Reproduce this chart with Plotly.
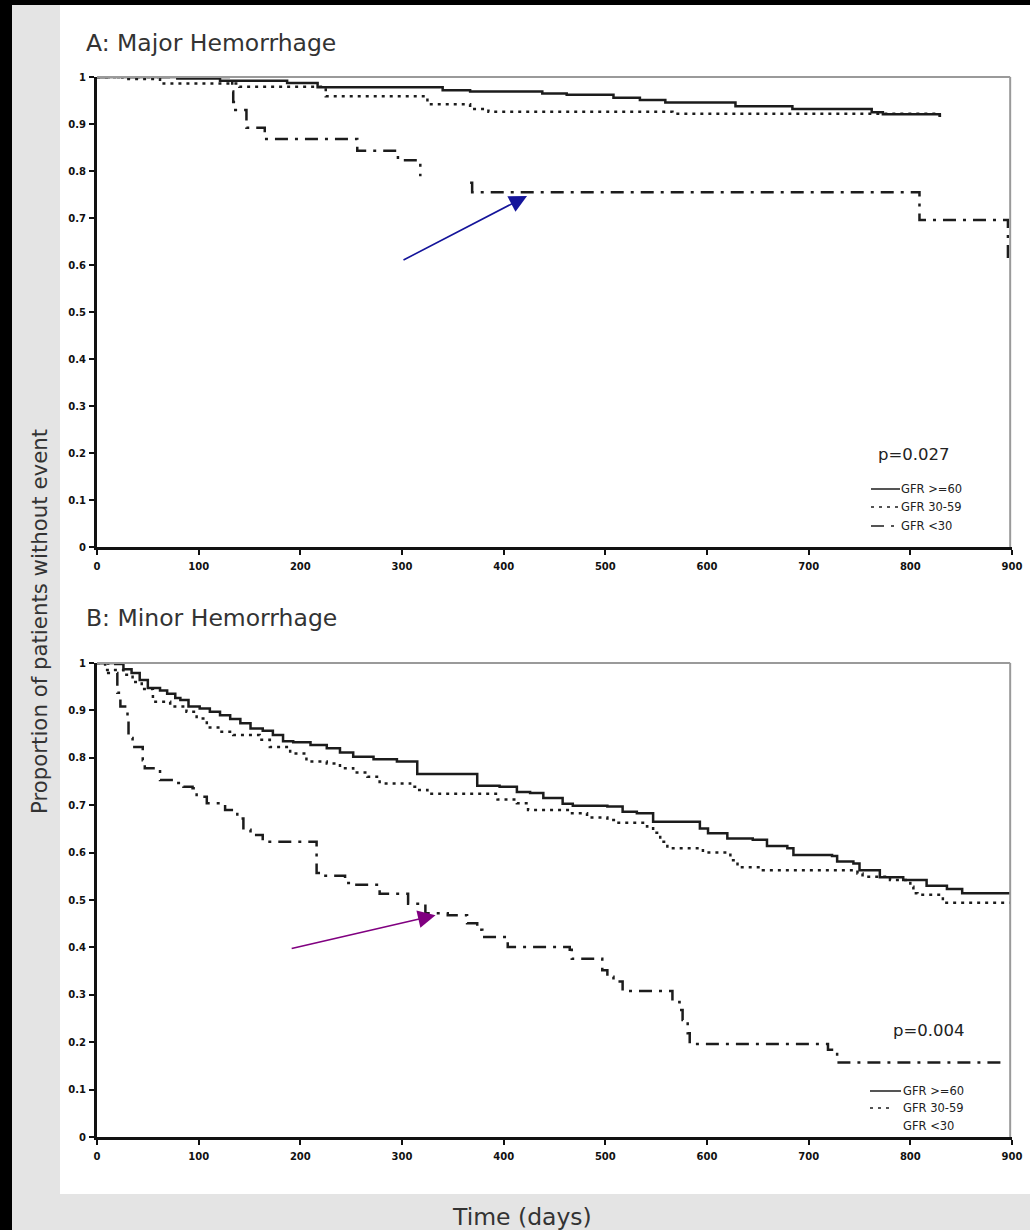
import plotly.graph_objects as go

# ---------------- data ----------------
# Panel A: Major Hemorrhage (Kaplan-Meier steps, time in days)
a_ge60_t = [0, 79, 121, 187, 217, 340, 367, 438, 462, 508, 534, 559, 628, 684, 762, 773, 829]
a_ge60_s = [1.0, 0.997, 0.992, 0.987, 0.978, 0.972, 0.969, 0.965, 0.962, 0.956, 0.951, 0.946, 0.938, 0.932, 0.925, 0.921, 0.915]

a_30_59_t = [0, 25, 62, 140, 225, 325, 367, 385, 566, 829]
a_30_59_s = [1.0, 0.996, 0.986, 0.979, 0.959, 0.942, 0.932, 0.926, 0.922, 0.915]

a_lt30_t = [0, 133, 134, 136, 147, 165, 256, 296, 318, None, 367, 369, 809, 896]
a_lt30_s = [1.0, 0.969, 0.947, 0.930, 0.892, 0.868, 0.843, 0.823, 0.789, None, 0.775, 0.755, 0.696, 0.606]

# Panel B: Minor Hemorrhage
b_ge60_t = [0, 18, 26, 34, 42, 50, 62, 69, 77, 82, 90, 101, 111, 121, 131, 141, 151, 163, 173, 183,
            193, 210, 226, 239, 252, 272, 295, 315, 374, 396, 413, 426, 439, 458, 468, 502, 517, 531,
            547, 593, 601, 620, 645, 659, 679, 685, 723, 728, 744, 750, 770, 793, 816, 836, 851, 898]
b_ge60_s = [1.0, 0.998, 0.987, 0.979, 0.964, 0.947, 0.942, 0.935, 0.926, 0.922, 0.908, 0.904, 0.897,
            0.890, 0.882, 0.873, 0.862, 0.857, 0.848, 0.835, 0.833, 0.827, 0.820, 0.811, 0.802, 0.797,
            0.792, 0.766, 0.741, 0.739, 0.728, 0.726, 0.715, 0.703, 0.699, 0.697, 0.686, 0.683, 0.665,
            0.651, 0.641, 0.630, 0.627, 0.614, 0.609, 0.595, 0.593, 0.581, 0.577, 0.563, 0.548, 0.542,
            0.530, 0.523, 0.514, 0.514]

b_30_59_t = [0, 8, 26, 35, 44, 55, 72, 88, 98, 108, 121, 134, 160, 170, 190, 206, 226, 239, 252, 266,
             278, 308, 315, 325, 394, 413, 424, 465, 482, 502, 511, 541, 547, 554, 561, 596, 623, 630,
             655, 748, 753, 780, 800, 803, 807, 832, 898]
b_30_59_s = [1.0, 0.985, 0.975, 0.960, 0.945, 0.918, 0.908, 0.897, 0.883, 0.864, 0.855, 0.848, 0.838,
             0.823, 0.809, 0.792, 0.788, 0.778, 0.769, 0.760, 0.746, 0.739, 0.732, 0.724, 0.712, 0.704,
             0.690, 0.683, 0.674, 0.669, 0.663, 0.655, 0.642, 0.623, 0.609, 0.600, 0.584, 0.569, 0.563,
             0.556, 0.549, 0.542, 0.528, 0.514, 0.511, 0.494, 0.494]

b_lt30_t = [0, 11, 20, 23, 30, 31, 35, 45, 47, 62, 77, 85, 94, 98, 108, 126, 138, 144, 151, 163, 216,
            222, 244, 249, 278, 306, 323, 345, 364, 374, 379, 404, 465, 467, 497, 502, 508, 517, 566,
            573, 576, 581, 583, 719, 728, 895]
b_lt30_s = [1.0, 0.979, 0.937, 0.908, 0.880, 0.842, 0.823, 0.795, 0.778, 0.753, 0.747, 0.739, 0.736,
            0.718, 0.704, 0.690, 0.672, 0.648, 0.637, 0.623, 0.557, 0.551, 0.536, 0.532, 0.513, 0.492,
            0.472, 0.468, 0.451, 0.437, 0.422, 0.401, 0.395, 0.376, 0.352, 0.338, 0.328, 0.308, 0.285,
            0.268, 0.247, 0.219, 0.196, 0.184, 0.157, 0.157]

group_names = ["GFR &gt;=60", "GFR 30-59", "GFR &lt;30"]
p_values = ["p=0.027", "p=0.004"]
panel_titles = ["A: Major Hemorrhage", "B: Minor Hemorrhage"]
y_ticks = [0, 0.1, 0.2, 0.3, 0.4, 0.5, 0.6, 0.7, 0.8, 0.9, 1]
y_tick_text = ["0", "0.1", "0.2", "0.3", "0.4", "0.5", "0.6", "0.7", "0.8", "0.9", "1"]
x_ticks = [0, 100, 200, 300, 400, 500, 600, 700, 800, 900]

# ---------------- figure ----------------
W, H = 1030, 1230
def px_x(p):
    return p / W
def px_y(p):
    return 1 - p / H

line_col = "#1c1c1c"
dashes = ["solid", "3px,5px", "13px,7px,3px,7px"]
styles = [dict(color=line_col, width=2.5, dash=d) for d in dashes]

fig = go.Figure()
panelA = [(a_ge60_t, a_ge60_s), (a_30_59_t, a_30_59_s), (a_lt30_t, a_lt30_s)]
panelB = [(b_ge60_t, b_ge60_s), (b_30_59_t, b_30_59_s), (b_lt30_t, b_lt30_s)]
for i, (t, s) in enumerate(panelA):
    fig.add_trace(go.Scatter(x=t, y=s, mode="lines", line=styles[i], line_shape="hv",
                             name=group_names[i], xaxis="x", yaxis="y", showlegend=False,
                             connectgaps=False))
for i, (t, s) in enumerate(panelB):
    fig.add_trace(go.Scatter(x=t, y=s, mode="lines", line=styles[i], line_shape="hv",
                             name=group_names[i], xaxis="x2", yaxis="y2", showlegend=False,
                             connectgaps=False))

xdom = [px_x(97), px_x(1012)]
tickfont = dict(family="DejaVu Sans", size=10, color="#111", weight="bold")
xcommon = dict(range=[0, 900], domain=xdom, tickvals=x_ticks, showgrid=False, zeroline=False,
               showline=True, linecolor="#111", linewidth=3, ticks="outside", ticklen=5,
               tickwidth=2, tickcolor="#111", tickfont=tickfont, ticklabelstandoff=3,
               automargin=False)
ycommon = dict(range=[0, 1], tickvals=y_ticks, ticktext=y_tick_text, showgrid=False, zeroline=False,
               showline=True, linecolor="#111", linewidth=3, ticks="outside", ticklen=5,
               tickwidth=2, tickcolor="#111", tickfont=tickfont, ticklabelstandoff=1,
               automargin=False)

fig.update_layout(
    width=W, height=H, autosize=False, margin=dict(l=0, r=0, t=0, b=0, pad=0),
    paper_bgcolor="black", plot_bgcolor="rgba(0,0,0,0)",
    xaxis=dict(**xcommon, anchor="y"),
    yaxis=dict(**ycommon, domain=[px_y(547), px_y(77)], anchor="x"),
    xaxis2=dict(**xcommon, anchor="y2"),
    yaxis2=dict(**ycommon, domain=[px_y(1137), px_y(663)], anchor="x2"),
    showlegend=False,
)

shapes = [
    dict(type="rect", xref="paper", yref="paper", x0=px_x(12), x1=1, y0=0, y1=px_y(5),
         fillcolor="#e4e4e4", line=dict(width=0), layer="below"),
    dict(type="rect", xref="paper", yref="paper", x0=px_x(60), x1=1, y0=px_y(1194), y1=px_y(5),
         fillcolor="white", line=dict(width=0), layer="below"),
]
for xa, ya in [("x", "y"), ("x2", "y2")]:
    shapes.append(dict(type="line", xref=f"{xa} domain", yref=f"{ya} domain", x0=0, x1=0.998, y0=1, y1=1,
                       line=dict(color="#9a9a9a", width=2)))
    shapes.append(dict(type="line", xref=f"{xa} domain", yref=f"{ya} domain", x0=0.998, x1=0.998, y0=0, y1=1,
                       line=dict(color="#9a9a9a", width=2)))

ann = []
leg_font = dict(family="DejaVu Sans", size=11.5, color="#222")
# legend A: sample lines + labels
legA_rows = [489, 507, 526]
for i, yy in enumerate(legA_rows):
    shapes.append(dict(type="line", xref="paper", yref="paper", x0=px_x(871), x1=px_x(900),
                       y0=px_y(yy), y1=px_y(yy), line=dict(color=line_col, width=1.5, dash=dashes[i])))
    ann.append(dict(text=group_names[i], xref="paper", yref="paper", x=px_x(899), y=px_y(yy),
                    xanchor="left", yanchor="middle", showarrow=False, font=leg_font))
# legend B: (third entry shows no sample line, as in the original)
legB_rows = [1091, 1108, 1126]
legB_len = [31, 21, 0]
for i, yy in enumerate(legB_rows):
    if legB_len[i]:
        shapes.append(dict(type="line", xref="paper", yref="paper", x0=px_x(870), x1=px_x(870 + legB_len[i]),
                           y0=px_y(yy), y1=px_y(yy), line=dict(color=line_col, width=1.5, dash=dashes[i])))
    ann.append(dict(text=group_names[i], xref="paper", yref="paper", x=px_x(901), y=px_y(yy),
                    xanchor="left", yanchor="middle", showarrow=False, font=leg_font))
fig.update_layout(shapes=shapes)

title_font = dict(family="DejaVu Sans", size=23.5, color="#333")
ann.append(dict(text=panel_titles[0], xref="paper", yref="paper", x=px_x(84), y=px_y(43),
                xanchor="left", yanchor="middle", showarrow=False, font=title_font))
ann.append(dict(text=panel_titles[1], xref="paper", yref="paper", x=px_x(84), y=px_y(618),
                xanchor="left", yanchor="middle", showarrow=False, font=title_font))
ann.append(dict(text="Proportion of patients without event", xref="paper", yref="paper",
                x=px_x(39), y=px_y(622), textangle=-90, xanchor="center", yanchor="middle",
                showarrow=False, font=dict(family="DejaVu Sans", size=21.3, color="#333")))
ann.append(dict(text="Time (days)", xref="paper", yref="paper", x=px_x(522), y=px_y(1217),
                xanchor="center", yanchor="middle", showarrow=False,
                font=dict(family="DejaVu Sans", size=23.5, color="#333")))
pfont = dict(family="DejaVu Sans", size=16.5, color="#222")
ann.append(dict(text=p_values[0], xref="paper", yref="paper", x=px_x(914), y=px_y(454),
                xanchor="center", yanchor="middle", showarrow=False, font=pfont))
ann.append(dict(text=p_values[1], xref="paper", yref="paper", x=px_x(929), y=px_y(1030),
                xanchor="center", yanchor="middle", showarrow=False, font=pfont))
# arrows (data coordinates)
ann.append(dict(x=423, y=0.747, ax=300, ay=0.609, xref="x", yref="y", axref="x", ayref="y",
                text="", showarrow=True, arrowhead=2, arrowsize=2.2, arrowwidth=1.6,
                arrowcolor="#14149a"))
ann.append(dict(x=333, y=0.468, ax=190, ay=0.397, xref="x2", yref="y2", axref="x2", ayref="y2",
                text="", showarrow=True, arrowhead=2, arrowsize=2.2, arrowwidth=1.6,
                arrowcolor="#800080"))
fig.update_layout(annotations=ann)

fig.write_html("out.html",
               config={"responsive": False, "displayModeBar": False},
               post_script="document.body.style.margin='0';document.body.style.padding='0';"
                           "document.body.style.background='black';"
                           "document.documentElement.style.overflow='hidden';"
                           "document.body.style.overflow='hidden';")
